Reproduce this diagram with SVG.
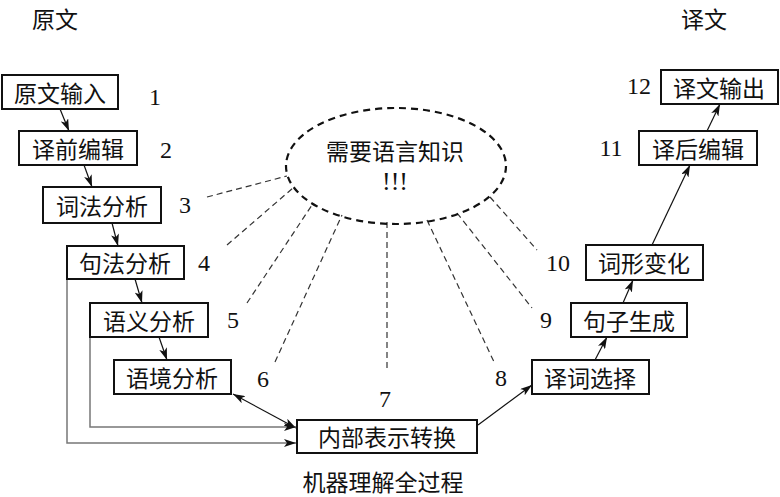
<svg xmlns="http://www.w3.org/2000/svg" width="780" height="497" viewBox="0 0 780 497">
<style>
.box{fill:#fff;stroke:#111;stroke-width:2}
.t{font-family:"Noto Sans CJK SC","Noto Sans",sans-serif;font-size:23px;fill:#111;text-anchor:middle;dominant-baseline:central}
.n{font-family:"Liberation Serif",serif;font-size:24px;fill:#111;text-anchor:middle;dominant-baseline:central}
.a{stroke:#111;stroke-width:1.2;fill:none;marker-end:url(#ah)}
.g{stroke:#777;stroke-width:1.5;fill:none;marker-end:url(#ah)}
.d{stroke:#333;stroke-width:1.2;stroke-dasharray:6 4;fill:none}
</style>
<defs>
<marker id="ah" viewBox="0 0 12 8" refX="12" refY="4" markerWidth="12" markerHeight="8" markerUnits="userSpaceOnUse" orient="auto-start-reverse">
<path d="M0,0 L12,4 L0,8 L3,4 Z" fill="#111"/>
</marker>
</defs>
<text class="t" x="55" y="18">原文</text>
<text class="t" x="704" y="18">译文</text>
<text class="t" x="383" y="481">机器理解全过程</text>
<g id="connectors">
<line class="a" x1="60" y1="109" x2="69" y2="131"/>
<line class="a" x1="84" y1="165" x2="92" y2="187"/>
<line class="a" x1="112" y1="223" x2="118" y2="246"/>
<line class="a" x1="135" y1="279" x2="142" y2="303"/>
<line class="a" x1="159" y1="337" x2="167" y2="360"/>
<line class="a" x1="233" y1="394" x2="296" y2="428" marker-start="url(#ah)"/>
<polyline class="g" points="67,279 67,443 296,443"/>
<polyline class="g" points="90,337 90,427 296,427"/>
<line class="a" x1="478" y1="425" x2="532" y2="385"/>
<line class="a" x1="595" y1="360" x2="607" y2="337"/>
<line class="a" x1="623" y1="303" x2="633" y2="280"/>
<line class="a" x1="652" y1="245" x2="690" y2="165"/>
<line class="a" x1="707" y1="131" x2="720" y2="104"/>
<line class="d" x1="207" y1="197" x2="287" y2="176"/>
<line class="d" x1="227" y1="245" x2="293" y2="188"/>
<line class="d" x1="247" y1="303" x2="312" y2="205"/>
<line class="d" x1="275" y1="362" x2="342" y2="215"/>
<line class="d" x1="387" y1="222" x2="387" y2="372" stroke="#888"/>
<line class="d" x1="427" y1="220" x2="495" y2="364"/>
<line class="d" x1="457" y1="213" x2="532" y2="308"/>
<line class="d" x1="490" y1="197" x2="537" y2="250"/>
</g>
<g id="knowledge">
<ellipse cx="396" cy="166" rx="110" ry="58" fill="none" stroke="#111" stroke-width="2.2" stroke-dasharray="7 5"/>
<text class="t" x="395" y="150">需要语言知识</text>
<text class="n" x="395" y="181" style="font-size:26px">!!!</text>
</g>
<g id="n1"><rect class="box" x="2" y="75" width="116" height="34"/><text class="t" x="60" y="92">原文输入</text><text class="n" x="155" y="97">1</text></g>
<g id="n2"><rect class="box" x="19" y="131" width="118" height="34"/><text class="t" x="78" y="148">译前编辑</text><text class="n" x="166" y="150">2</text></g>
<g id="n3"><rect class="box" x="43" y="187" width="118" height="36"/><text class="t" x="102" y="205">词法分析</text><text class="n" x="185" y="205">3</text></g>
<g id="n4"><rect class="box" x="67" y="246" width="117" height="33"/><text class="t" x="125" y="262">句法分析</text><text class="n" x="204" y="263">4</text></g>
<g id="n5"><rect class="box" x="90" y="303" width="118" height="34"/><text class="t" x="149" y="320">语义分析</text><text class="n" x="233" y="320">5</text></g>
<g id="n6"><rect class="box" x="114" y="360" width="117" height="34"/><text class="t" x="172" y="377">语境分析</text><text class="n" x="263" y="379">6</text></g>
<g id="n7"><rect class="box" x="297" y="420" width="180" height="33"/><text class="t" x="387" y="436">内部表示转换</text><text class="n" x="385" y="399">7</text></g>
<g id="n8"><rect class="box" x="532" y="360" width="117" height="34"/><text class="t" x="590" y="377">译词选择</text><text class="n" x="501" y="378">8</text></g>
<g id="n9"><rect class="box" x="571" y="303" width="116" height="34"/><text class="t" x="629" y="320">句子生成</text><text class="n" x="546" y="320">9</text></g>
<g id="n10"><rect class="box" x="586" y="245" width="117" height="35"/><text class="t" x="644" y="262">词形变化</text><text class="n" x="558" y="263">10</text></g>
<g id="n11"><rect class="box" x="639" y="131" width="118" height="34"/><text class="t" x="698" y="148">译后编辑</text><text class="n" x="611" y="148">11</text></g>
<g id="n12"><rect class="box" x="661" y="70" width="117" height="34"/><text class="t" x="719" y="87">译文输出</text><text class="n" x="639" y="86">12</text></g>
</svg>
